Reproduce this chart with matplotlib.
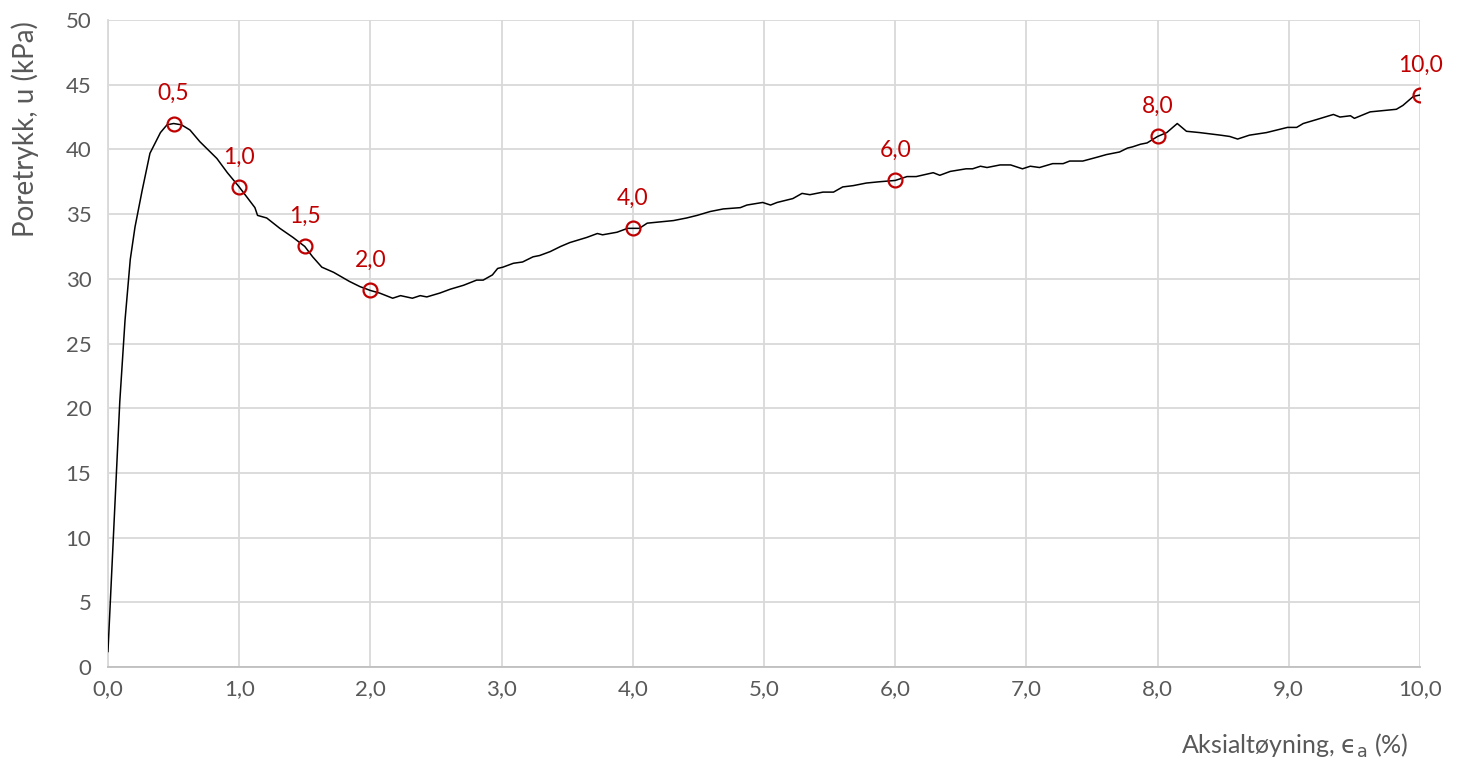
import matplotlib
matplotlib.use("Agg")
import matplotlib.pyplot as plt

plt.rcParams['font.family'] = ['Lato', 'DejaVu Sans']
plt.rcParams['mathtext.fontset'] = 'dejavusans'

# aksialtøyning (%) og poretrykk (kPa), lest av figuren
strain = [0.0, 0.05, 0.09, 0.13, 0.17, 0.206, 0.26, 0.32, 0.40, 0.45, 0.5, 0.56, 0.625,
          0.70, 0.75, 0.83, 0.91, 1.0, 1.06, 1.12, 1.14, 1.21, 1.31, 1.41, 1.5, 1.56,
          1.63, 1.72, 1.84, 1.92, 2.0, 2.07, 2.17, 2.23, 2.32, 2.38, 2.43, 2.53, 2.61,
          2.71, 2.81, 2.86, 2.93, 2.97, 3.01, 3.09, 3.16, 3.24, 3.29, 3.37, 3.45, 3.52,
          3.65, 3.73, 3.77, 3.88, 3.96, 4.0, 4.05, 4.11, 4.21, 4.31, 4.41, 4.49, 4.59,
          4.69, 4.82, 4.87, 4.99, 5.05, 5.1, 5.22, 5.29, 5.35, 5.45, 5.53, 5.6, 5.68,
          5.78, 5.88, 6.0, 6.09, 6.16, 6.29, 6.34, 6.42, 6.54, 6.59, 6.65, 6.70, 6.80,
          6.88, 6.97, 7.03, 7.10, 7.20, 7.28, 7.33, 7.43, 7.54, 7.61, 7.66, 7.71, 7.77,
          7.81, 7.87, 7.92, 8.0, 8.07, 8.15, 8.22, 8.32, 8.40, 8.48, 8.55, 8.61, 8.70,
          8.83, 8.91, 8.99, 9.06, 9.11, 9.21, 9.34, 9.39, 9.47, 9.50, 9.62, 9.72, 9.82,
          9.87, 9.95, 10.0]
pore = [1.2, 12.0, 20.5, 26.8, 31.5, 34.0, 36.8, 39.7, 41.3, 41.9, 42.0, 41.9, 41.5,
        40.6, 40.1, 39.3, 38.2, 37.1, 36.3, 35.5, 34.9, 34.7, 33.9, 33.2, 32.5, 31.7,
        30.9, 30.5, 29.8, 29.4, 29.1, 28.9, 28.5, 28.7, 28.5, 28.7, 28.6, 28.9, 29.2,
        29.5, 29.9, 29.9, 30.3, 30.8, 30.9, 31.2, 31.3, 31.7, 31.8, 32.1, 32.5, 32.8,
        33.2, 33.5, 33.4, 33.6, 33.9, 33.9, 33.9, 34.3, 34.4, 34.5, 34.7, 34.9, 35.2,
        35.4, 35.5, 35.7, 35.9, 35.7, 35.9, 36.2, 36.6, 36.5, 36.7, 36.7, 37.1, 37.2,
        37.4, 37.5, 37.6, 37.9, 37.9, 38.2, 38.0, 38.3, 38.5, 38.5, 38.7, 38.6, 38.8,
        38.8, 38.5, 38.7, 38.6, 38.9, 38.9, 39.1, 39.1, 39.4, 39.6, 39.7, 39.8, 40.1,
        40.2, 40.4, 40.5, 41.0, 41.3, 42.0, 41.4, 41.3, 41.2, 41.1, 41.0, 40.8, 41.1,
        41.3, 41.5, 41.7, 41.7, 42.0, 42.3, 42.7, 42.5, 42.6, 42.4, 42.9, 43.0, 43.1,
        43.4, 44.1, 44.2]

# markerte punkter
mark_strain = [0.5, 1.0, 1.5, 2.0, 4.0, 6.0, 8.0, 10.0]
mark_pore = [42.0, 37.1, 32.5, 29.1, 33.9, 37.6, 41.0, 44.2]
mark_labels = ["0,5", "1,0", "1,5", "2,0", "4,0", "6,0", "8,0", "10,0"]

xticks = [0, 1, 2, 3, 4, 5, 6, 7, 8, 9, 10]
yticks = [0, 5, 10, 15, 20, 25, 30, 35, 40, 45, 50]

grey = '#595959'
red = '#C00000'

fig = plt.figure(figsize=(14.63, 7.69), dpi=100)
ax = fig.add_axes([0.0738, 0.1326, 0.8968, 0.8414])

ax.plot(strain, pore, color='black', lw=1.1, zorder=3)
ax.plot(mark_strain, mark_pore, ls='none', marker='o', ms=10, mfc='none',
        mec=red, mew=1.6, zorder=4)
for xs, ys, lab in zip(mark_strain, mark_pore, mark_labels):
    ax.annotate(lab, (xs, ys), xytext=(0, 14), textcoords='offset points',
                ha='center', va='bottom', color=red, fontsize=16.5)

ax.set_xlim(0, 10)
ax.set_ylim(0, 50)
ax.set_xticks(xticks)
ax.set_xticklabels([f"{v:.1f}".replace('.', ',') for v in xticks])
ax.set_yticks(yticks)
ax.set_yticklabels([str(v) for v in yticks])
ax.tick_params(length=0, labelsize=16, labelcolor=grey)
ax.tick_params(axis='x', pad=9)
ax.tick_params(axis='y', pad=12)
ax.grid(True, color='#d9d9d9', lw=1.3)
ax.set_axisbelow(True)
for s in ['top', 'right']:
    ax.spines[s].set_visible(False)
ax.spines['left'].set_color('#d9d9d9')
ax.spines['left'].set_linewidth(1.3)
ax.spines['bottom'].set_color('#bfbfbf')
ax.spines['bottom'].set_linewidth(1.3)

fig.text(0.017, 0.972, "Poretrykk, u (kPa)", rotation=90, ha='center', va='top',
         fontsize=20, color=grey)
fig.text(0.963, 0.012, "Aksialtøyning, $\\mathrm{\u03f5}_\\mathrm{a}$ (%)", ha='right',
         va='bottom', fontsize=18, color=grey)

fig.savefig("out.png", dpi=100)
